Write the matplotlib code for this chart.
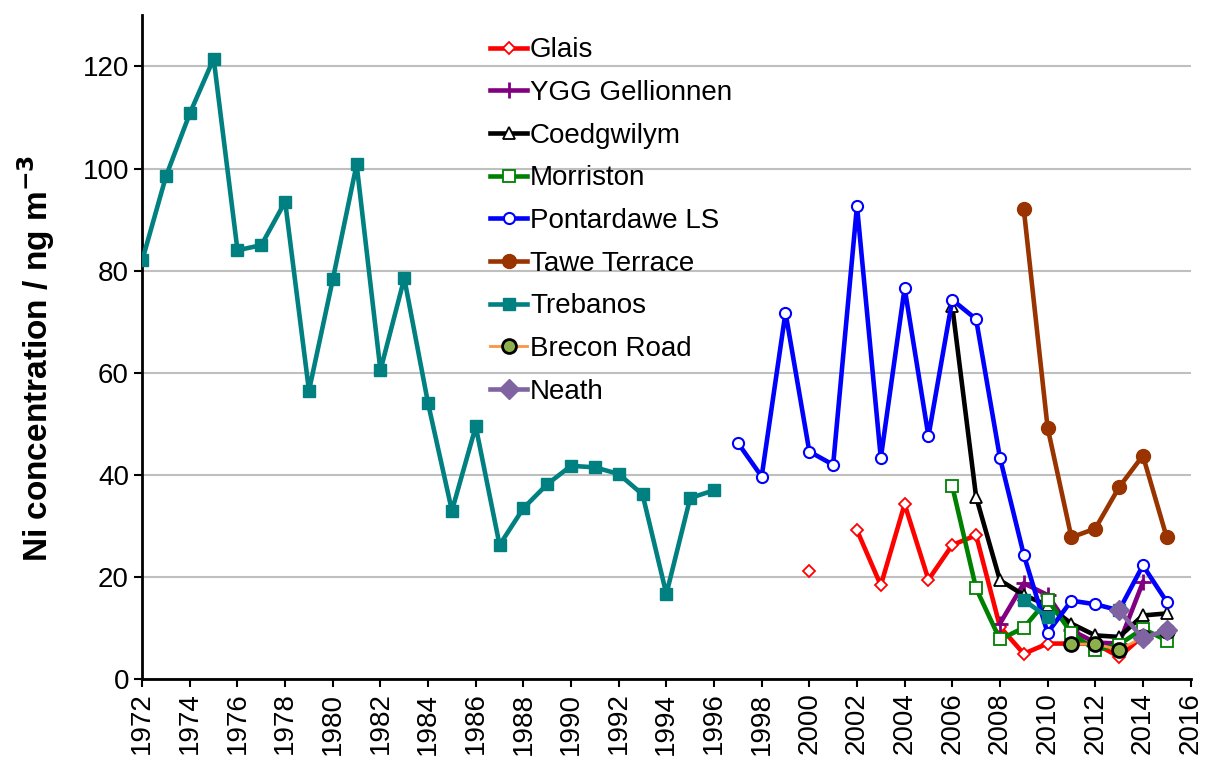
import numpy as np
import matplotlib
matplotlib.use("Agg")
import matplotlib.pyplot as plt

#======================================================================#
## data (ng m-3), None = no value (breaks the line)
years_treb = list(range(1972, 1998)) + [2009, 2010, 2011, 2012, 2013]
treb = [82, 98.5, 110.8, 121.5, 84, 85, 93.5, 56.5, 78.3, 100.8, 60.5, 78.5,
        54, 33, 49.5, 26.3, 33.5, 38.2, 41.8, 41.5, 40.2, 36.2, 16.7, 35.5, 37,
        None, 15.5, 12.2, None, None, 13.5]

years_pont = list(range(1997, 2016))
pont = [46.3, 39.7, 71.8, 44.6, 42, 92.7, 43.3, 76.6, 47.6, 74.3, 70.5, 43.4,
        24.4, 9.1, 15.4, 14.7, 13.5, 22.3, 15.2]

years_glais = list(range(2000, 2016))
glais = [21.2, None, 29.2, 18.4, 34.3, 19.5, 26.3, 28.2, 10.3, 5.0, 7.0, 7.0,
         7.0, 4.4, 8.5, 9.0]

years_ygg = list(range(2008, 2015))
ygg = [10.9, 18.8, 16.5, 9.6, 7.2, 7.0, 19.0]

years_coed = list(range(2006, 2016))
coed = [73, 35.7, 19.4, 16.5, 14.5, 10.9, 8.6, 8.3, 12.5, 12.9]

years_morr = list(range(2006, 2016))
morr = [37.8, 17.8, 7.8, 10.1, 15.6, 9.1, 5.7, 6.8, 9.9, 7.6]

years_tawe = list(range(2009, 2016))
tawe = [92.1, 49.3, 27.8, 29.5, 37.6, 43.8, 27.8]

years_brec = list(range(2011, 2016))
brec = [6.9, 6.9, 5.8, 8.2, 9.5]

years_neath = [2013, 2014, 2015]
neath = [13.5, 8.0, 9.7]

#======================================================================#
def arr(v):
    return np.array([np.nan if a is None else a for a in v], dtype=float)

plt.rcParams['font.family'] = ['Liberation Sans', 'DejaVu Sans']
fs = 20
lw = 3.3

fig = plt.figure(figsize=(12.05, 7.65), dpi=100)
ax = fig.add_axes([0.118, 0.112, 0.870, 0.868])

ax.plot(years_glais, arr(glais), color='#FF0000', lw=lw, marker='D', ms=6,
        mfc='white', mec='#FF0000', mew=1.3, label='Glais', zorder=3)
ax.plot(years_ygg, arr(ygg), color='#800080', lw=lw, marker='+', ms=11,
        mew=2, label='YGG Gellionnen', zorder=3)
ax.plot(years_coed, arr(coed), color='black', lw=lw, marker='^', ms=8,
        mfc='white', mec='black', mew=1.3, label='Coedgwilym', zorder=3)
ax.plot(years_morr, arr(morr), color='#008000', lw=lw, marker='s', ms=8,
        mfc='white', mec='#008000', mew=1.3, label='Morriston', zorder=3)
ax.plot(years_pont, arr(pont), color='#0000FF', lw=lw, marker='o', ms=8,
        mfc='white', mec='#0000FF', mew=1.5, label='Pontardawe LS', zorder=3)
ax.plot(years_tawe, arr(tawe), color='#993300', lw=lw, marker='o', ms=10,
        mfc='#993300', mec='#993300', label='Tawe Terrace', zorder=3)
ax.plot(years_treb, arr(treb), color='#008080', lw=lw, marker='s', ms=8,
        mfc='#008080', mec='#008080', label='Trebanos', zorder=3)
ax.plot(years_brec, arr(brec), color='#F79646', lw=2, marker='o', ms=10,
        mfc='#8DB04C', mec='black', mew=2, label='Brecon Road', zorder=3)
ax.plot(years_neath, arr(neath), color='#8064A2', lw=lw, marker='D', ms=10,
        mfc='#8064A2', mec='#8064A2', label='Neath', zorder=3)

ax.set_xlim(1972, 2016)
ax.set_ylim(0, 130)
ax.set_xticks(range(1972, 2017, 2))
ax.set_yticks(range(0, 121, 20))
ax.tick_params(axis='x', labelrotation=90, labelsize=fs, direction='out',
               length=6, width=1.5)
ax.tick_params(axis='y', labelsize=fs, direction='out', length=6, width=1.5)
ax.yaxis.grid(True, color='#BFBFBF', lw=1.5, zorder=0)
ax.set_axisbelow(True)
for s in ['top', 'right']:
    ax.spines[s].set_visible(False)
for s in ['left', 'bottom']:
    ax.spines[s].set_linewidth(2)

ax.set_ylabel('Ni concentration / ng m$^{\\mathbf{-3}}$', fontsize=24,
              fontweight='bold', labelpad=18)
ax.yaxis.set_label_coords(-0.0815, 0.483)

ax.legend(loc='upper left', bbox_to_anchor=(0.3215, 0.9835), frameon=False,
          fontsize=fs, handlelength=1.33, handletextpad=0.1,
          labelspacing=0.6, borderaxespad=0)

fig.savefig('out.png', dpi=100)
